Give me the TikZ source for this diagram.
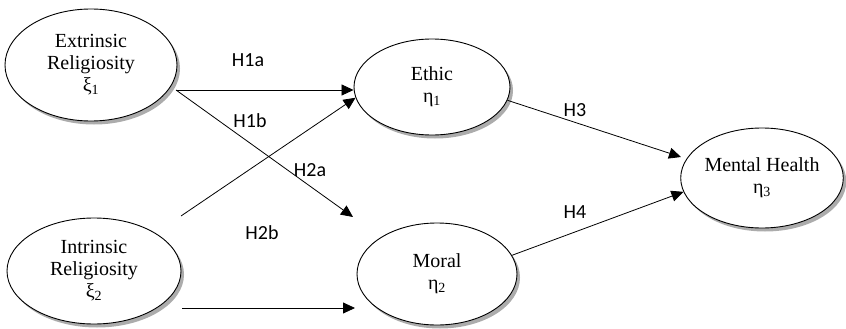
\documentclass[tikz,border=0pt]{standalone}
\usepackage{fontspec}
\setmainfont{Liberation Serif}
\newfontfamily\hypfont{Carlito}
\usetikzlibrary{shapes.geometric,arrows.meta,shadows}
\tikzset{
  construct/.style={ellipse,draw,fill=white,line width=0.9pt,inner sep=0pt,align=center,
    font=\fontsize{20}{22}\selectfont,
    drop shadow={shadow xshift=3pt,shadow yshift=-3.5pt,fill=gray!65,opacity=1}},
  hyp/.style={line width=0.8pt,-{Triangle[length=12pt,width=11pt]}},
  hlabel/.style={font=\hypfont\fontsize{20}{22}\selectfont}
}
\begin{document}
\begin{tikzpicture}[x=1pt,y=-1pt]
\useasboundingbox (0,0) rectangle (846,329);
\node[construct,minimum width=172pt,minimum height=112pt] (ext) at (91,65) {Extrinsic\\Religiosity\\ξ\textsubscript{1}};
\node[construct,minimum width=174pt,minimum height=106pt] (int) at (94,271) {Intrinsic\\Religiosity\\ξ\textsubscript{2}};
\node[construct,minimum width=156pt,minimum height=96pt] (eth) at (432,87) {Ethic\\η\textsubscript{1}};
\node[construct,minimum width=160pt,minimum height=102pt] (mor) at (437,274) {Moral\\η\textsubscript{2}};
\node[construct,minimum width=160pt,minimum height=100pt] (mh) at (762,178) {Mental Health\\η\textsubscript{3}};
\coordinate (x1) at (176,90);
\coordinate (x2) at (181,216);
\coordinate (x2b) at (182,308);
\coordinate (m1b) at (353,217);
\coordinate (m2b) at (355,308);
\coordinate (h3) at (681,157);
\draw[hyp] (x1) -- (x1 -| eth.west);
\draw[hyp] (x1) -- (m1b);
\draw[hyp] (x2) -- (eth.188);
\draw[hyp] (x2b) -- (m2b);
\draw[hyp] (eth.-10) -- (h3);
\draw[hyp] (mor.14) -- (mh.190);
\foreach \t/\x/\y in {H1a/248/60,H1b/250/121,H2a/310/170,H2b/262/233,H3/575/110,H4/575/212}
  \node[hlabel] (\t) at (\x,\y) {\t};
\end{tikzpicture}
\end{document}
